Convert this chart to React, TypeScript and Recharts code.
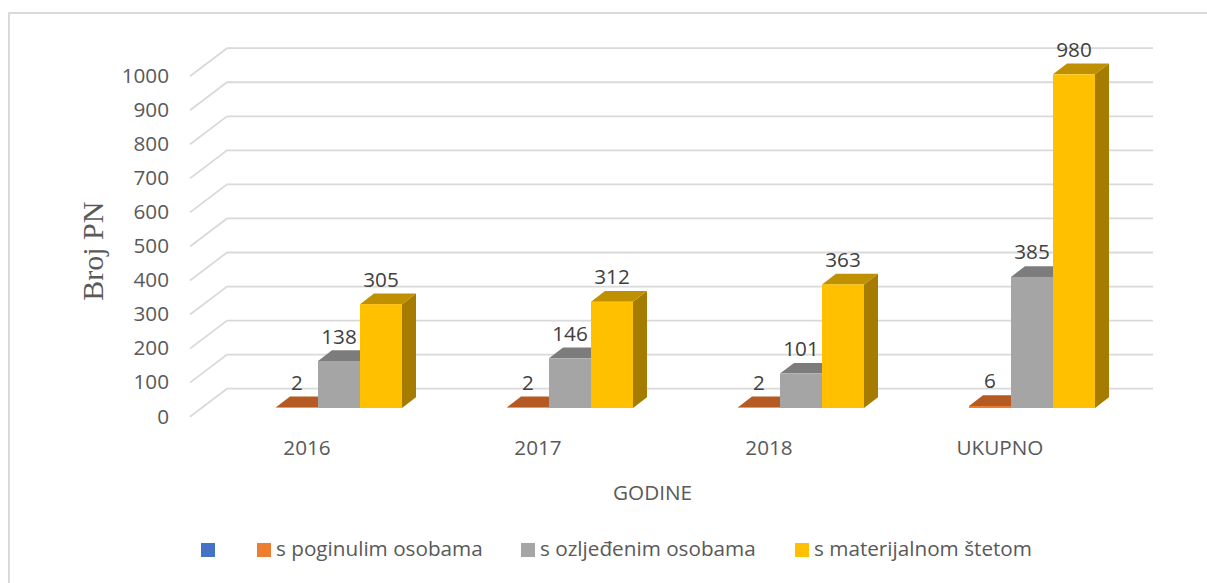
import React from "react";
import { BarChart, Bar, XAxis, YAxis, CartesianGrid, Legend, LabelList } from "recharts";

const categories = ["2016", "2017", "2018", "UKUPNO"];
const blank: (number | null)[] = [null, null, null, null];
const poginuli = [2, 2, 2, 6];
const ozlijedeni = [138, 146, 101, 385];
const materijalna = [305, 312, 363, 980];
const yTicks = [0, 100, 200, 300, 400, 500, 600, 700, 800, 900, 1000];

const data = categories.map((c, i) => ({
  c,
  blank: blank[i],
  poginuli: poginuli[i],
  ozlijedeni: ozlijedeni[i],
  materijalna: materijalna[i],
}));

const FONT = "'Open Sans', sans-serif";
const FS = 20.7;
const DX = 14;
const DY = -10.7;

const makeShape = (top: string, side: string) => (p: any) => {
  const { x, y, width: w, height: h, fill } = p;
  if (!Number.isFinite(h) || !Number.isFinite(y) || h <= 0) return <g />;
  return (
    <g>
      <polygon points={`${x + w},${y} ${x + w + DX},${y + DY} ${x + w + DX},${y + h + DY} ${x + w},${y + h}`} fill={side} />
      <polygon points={`${x},${y} ${x + w},${y} ${x + w + DX},${y + DY} ${x + DX},${y + DY}`} fill={top} />
      <rect x={x} y={y} width={w} height={h} fill={fill} />
    </g>
  );
};

const gridLine = (p: any) => {
  const y = p.y1;
  return (
    <polyline
      key={p.key ?? y}
      points={`190,${y + 8.7} 227,${y - 19.3} 1153,${y - 19.3}`}
      fill="none"
      stroke="#d9d9d9"
      strokeWidth={1.8}
    />
  );
};

const yTick = (p: any) => (
  <text x={169} y={p.y + 15.5} textAnchor="end" fontFamily={FONT} fontSize={FS} fill="#595959">
    {p.payload.value}
  </text>
);

const xTick = (p: any) => (
  <text x={p.x - 10.5} y={455} textAnchor="middle" fontFamily={FONT} fontSize={FS} fill="#595959">
    {p.payload.value}
  </text>
);

const barLabel = (p: any) => {
  if (p.value == null) return <g />;
  return (
    <text x={p.x + p.width / 2} y={p.y - 17.5} textAnchor="middle" fontFamily={FONT} fontSize={FS} fill="#404040">
      {p.value}
    </text>
  );
};

const legendItems = [
  { key: "blank", left: 201 },
  { key: "poginuli", left: 257 },
  { key: "ozlijedeni", left: 521 },
  { key: "materijalna", left: 795 },
];

const legendContent = (p: any) => (
  <div style={{ position: "relative", width: 0, height: 0 }}>
    {(p.payload ?? []).map((e: any) => {
      const left = legendItems.find((l) => l.key === e.dataKey)?.left ?? 0;
      return (
        <div key={e.dataKey} style={{ position: "absolute", left, top: 531, whiteSpace: "pre", fontFamily: FONT, fontSize: FS, lineHeight: "36px", color: "#595959" }}>
          <span style={{ position: "absolute", left: 0, top: 12, width: 14, height: 14, background: e.color }} />
          <span style={{ position: "absolute", left: 19, top: -1 }}>{e.value}</span>
        </div>
      );
    })}
  </div>
);

export default function App() {
  return (
    <div style={{ position: "absolute", left: 0, top: 0, width: 1207, height: 583, background: "#fff", overflow: "hidden" }}>
      <div style={{ position: "absolute", left: 8, top: 12, width: 1199, height: 1.5, background: "#d9d9d9" }} />
      <div style={{ position: "absolute", left: 8, top: 12, width: 2, height: 571, background: "#d9d9d9" }} />
      <div style={{ position: "absolute", left: 0, top: 0 }}>
        <BarChart
          width={1207}
          height={583}
          data={data}
          margin={{ left: 142, right: 81, top: 67.5, bottom: 135 }}
          barSize={42}
          barGap={0}
        >
          <CartesianGrid vertical={false} horizontal={gridLine} />
          <XAxis
            dataKey="c"
            height={40}
            axisLine={false}
            tickLine={false}
            tick={xTick}
            interval={0}
            label={{ value: "GODINE", position: "insideBottom", dx: -11.5, dy: 57, fontFamily: FONT, fontSize: FS, fill: "#595959" }}
          />
          <YAxis
            width={60}
            domain={[0, 1000]}
            ticks={yTicks}
            axisLine={false}
            tickLine={false}
            tick={yTick}
            interval={0}
            label={{ value: "Broj PN", angle: -90, position: "insideLeft", dx: -55, dy: 63, fontFamily: "'Liberation Serif', serif", fontSize: 30, fill: "#595959" }}
          />
          <Legend content={legendContent} wrapperStyle={{ position: "absolute", left: 0, top: 0, bottom: "auto", width: 0, height: 0 }} />
          <Bar dataKey="blank" name=" " fill="#4472C4" isAnimationActive={false} shape={makeShape("#335593", "#2b4a80")} />
          <Bar dataKey="poginuli" name="s poginulim osobama" fill="#ED7D31" isAnimationActive={false} shape={makeShape("#B55A22", "#A04E1C")}>
            <LabelList dataKey="poginuli" content={barLabel} />
          </Bar>
          <Bar dataKey="ozlijedeni" name="s ozljeđenim osobama" fill="#A5A5A5" isAnimationActive={false} shape={makeShape("#7C7C7C", "#6E6E6E")}>
            <LabelList dataKey="ozlijedeni" content={barLabel} />
          </Bar>
          <Bar dataKey="materijalna" name="s materijalnom štetom" fill="#FFC000" isAnimationActive={false} shape={makeShape("#BF9000", "#A67C00")}>
            <LabelList dataKey="materijalna" content={barLabel} />
          </Bar>
        </BarChart>
      </div>
    </div>
  );
}
